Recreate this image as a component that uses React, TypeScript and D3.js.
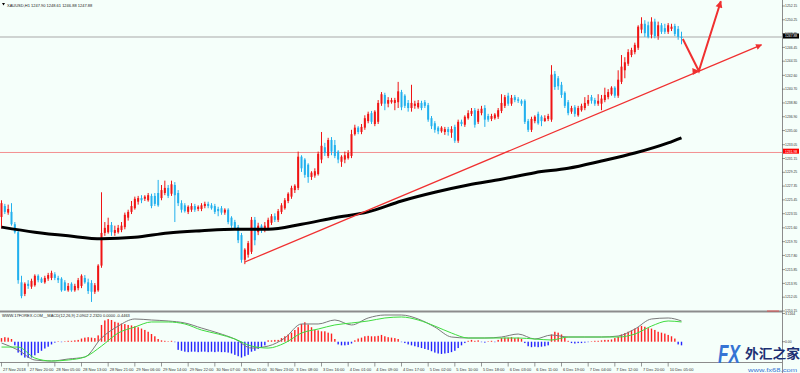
import * as d3 from 'd3';

const symbolTitle = 'XAUUSD,H1  1247.90 1248.61 1246.88 1247.88';
const macdTitle = 'WWW.17FOREX.COM__MACD(12,26,9) 2.0902 2.2320 0.0000 -0.4463';

// H1 bars, 27 Nov 12:00 -> 10 Dec 09:00
const opens = [
  1223.1, 1224.6, 1223.7, 1223.8, 1222.1, 1221.0, 1214.1, 1212.5, 1213.9, 1213.5,
  1213.7, 1215.0, 1214.6, 1214.1, 1214.6, 1214.7, 1215.2, 1214.7, 1214.6, 1214.1,
  1213.0, 1213.9, 1213.0, 1213.3, 1213.6, 1214.7, 1214.1, 1214.0, 1212.8, 1213.0,
  1216.4, 1220.9, 1221.0, 1222.0, 1220.9, 1221.0, 1221.3, 1221.7, 1223.0, 1223.8,
  1224.3, 1225.2, 1225.7, 1225.6, 1225.4, 1226.0, 1226.0, 1226.4, 1225.7, 1226.4,
  1227.1, 1226.3, 1227.5, 1226.4, 1225.0, 1224.7, 1223.8, 1224.1, 1224.6, 1224.2,
  1224.2, 1224.6, 1224.9, 1224.7, 1224.6, 1224.2, 1224.3, 1223.7, 1224.1, 1223.0,
  1222.4, 1221.7, 1220.6, 1217.2, 1217.9, 1218.3, 1222.7, 1221.0, 1221.9, 1221.3,
  1221.6, 1222.3, 1223.2, 1222.7, 1223.8, 1224.3, 1225.3, 1225.9, 1226.8, 1227.1,
  1231.4, 1231.0, 1230.3, 1228.6, 1228.8, 1229.0, 1231.0, 1232.7, 1231.5, 1233.7,
  1233.0, 1232.1, 1230.7, 1231.0, 1231.2, 1231.5, 1234.5, 1235.4, 1234.8, 1235.4,
  1236.3, 1237.4, 1235.9, 1236.2, 1238.7, 1239.9, 1238.7, 1238.9, 1238.8, 1238.9,
  1240.3, 1239.8, 1238.8, 1238.1, 1238.4, 1238.2, 1238.8, 1238.9, 1238.5, 1236.7,
  1236.0, 1235.4, 1234.9, 1234.8, 1235.2, 1234.7, 1235.5, 1233.6, 1236.2, 1235.8,
  1236.7, 1237.3, 1237.8, 1236.2, 1237.4, 1238.1, 1237.0, 1236.6, 1236.7, 1236.9,
  1237.7, 1238.4, 1239.8, 1238.7, 1239.6, 1239.3, 1239.1, 1239.1, 1236.3, 1235.1,
  1236.3, 1237.3, 1236.9, 1236.3, 1236.6, 1236.5, 1242.8, 1242.2, 1241.3, 1240.2,
  1238.9, 1237.6, 1238.2, 1237.1, 1237.8, 1238.1, 1238.7, 1239.6, 1239.2, 1238.7,
  1238.7, 1239.2, 1239.6, 1240.0, 1240.9, 1239.8, 1241.7, 1243.3, 1244.2, 1245.4,
  1245.8, 1246.4, 1248.9, 1249.7, 1249.5, 1248.2, 1250.0, 1248.0, 1249.5, 1249.1,
  1248.6, 1249.0, 1249.4, 1249.0, 1247.90,
];
const highs = [
  1225.4, 1224.9, 1224.8, 1225.0, 1222.4, 1221.3, 1215.0, 1214.1, 1214.4, 1214.6,
  1215.2, 1215.2, 1214.8, 1215.0, 1215.4, 1215.7, 1215.5, 1215.0, 1214.8, 1214.4,
  1214.0, 1214.1, 1213.9, 1214.7, 1215.2, 1215.1, 1214.6, 1214.4, 1214.0, 1216.6,
  1226.5, 1222.4, 1223.0, 1222.4, 1221.9, 1222.0, 1222.4, 1223.7, 1224.1, 1225.3,
  1225.9, 1226.0, 1226.1, 1226.1, 1226.4, 1226.3, 1226.4, 1228.2, 1227.5, 1228.1,
  1227.5, 1228.1, 1227.9, 1226.8, 1225.4, 1225.0, 1224.7, 1225.0, 1224.9, 1224.7,
  1225.0, 1225.2, 1225.2, 1225.0, 1224.9, 1224.5, 1224.6, 1224.3, 1224.3, 1223.2,
  1222.7, 1222.0, 1220.9, 1218.8, 1219.8, 1223.1, 1223.1, 1222.3, 1222.1, 1222.4,
  1223.0, 1223.5, 1223.6, 1224.2, 1225.0, 1225.7, 1226.5, 1227.4, 1227.6, 1232.1,
  1231.6, 1231.2, 1230.5, 1229.4, 1229.8, 1232.1, 1234.8, 1233.3, 1234.0, 1234.1,
  1233.7, 1232.3, 1231.6, 1232.1, 1232.3, 1235.1, 1235.8, 1235.6, 1235.9, 1237.1,
  1237.6, 1237.7, 1237.8, 1239.2, 1240.3, 1240.2, 1239.6, 1239.5, 1239.5, 1241.7,
  1240.6, 1240.0, 1239.2, 1241.3, 1239.1, 1239.2, 1239.1, 1239.2, 1238.8, 1237.0,
  1236.3, 1235.6, 1235.6, 1235.5, 1235.5, 1235.6, 1235.8, 1236.5, 1236.5, 1237.1,
  1237.8, 1238.1, 1238.1, 1238.0, 1238.4, 1238.5, 1237.3, 1237.3, 1237.4, 1238.1,
  1240.0, 1239.9, 1240.2, 1239.9, 1239.9, 1239.6, 1239.3, 1239.3, 1236.6, 1236.9,
  1237.1, 1237.6, 1237.1, 1237.1, 1237.3, 1244.0, 1243.2, 1242.5, 1241.7, 1240.4,
  1239.2, 1238.4, 1238.5, 1238.4, 1238.7, 1239.6, 1239.9, 1239.9, 1239.5, 1240.0,
  1239.9, 1240.9, 1240.7, 1241.1, 1241.1, 1243.3, 1245.4, 1245.1, 1246.2, 1246.4,
  1247.1, 1249.5, 1250.6, 1250.2, 1250.0, 1250.6, 1250.4, 1250.0, 1249.8, 1249.7,
  1249.8, 1249.7, 1249.7, 1249.4, 1248.61,
];
const lows = [
  1221.5, 1223.5, 1223.4, 1221.9, 1220.8, 1213.9, 1211.9, 1212.2, 1213.2, 1213.2,
  1213.5, 1214.1, 1214.0, 1213.9, 1214.3, 1214.4, 1214.4, 1214.0, 1212.8, 1212.9,
  1212.8, 1212.8, 1212.8, 1213.0, 1213.3, 1213.9, 1212.5, 1211.4, 1212.5, 1212.8,
  1216.1, 1220.5, 1220.8, 1220.5, 1220.5, 1220.8, 1221.0, 1221.4, 1222.6, 1223.5,
  1224.1, 1224.8, 1225.0, 1225.3, 1225.2, 1224.3, 1224.6, 1224.5, 1225.4, 1226.1,
  1225.7, 1226.0, 1222.4, 1224.6, 1223.7, 1223.7, 1223.5, 1223.8, 1223.8, 1223.9,
  1223.9, 1224.3, 1224.3, 1224.1, 1223.5, 1223.2, 1223.4, 1223.4, 1222.1, 1221.6,
  1221.3, 1219.5, 1216.8, 1216.6, 1217.5, 1218.0, 1219.2, 1220.6, 1220.9, 1221.0,
  1221.3, 1222.0, 1222.4, 1222.4, 1223.5, 1224.1, 1225.0, 1225.6, 1226.4, 1226.8,
  1229.3, 1228.5, 1227.8, 1228.2, 1228.5, 1228.8, 1230.5, 1231.5, 1231.2, 1231.6,
  1231.2, 1230.5, 1230.0, 1230.5, 1231.0, 1231.2, 1234.3, 1234.5, 1234.5, 1235.1,
  1236.0, 1235.9, 1235.6, 1235.9, 1238.4, 1237.8, 1238.2, 1238.7, 1237.8, 1238.1,
  1237.8, 1238.1, 1237.6, 1237.6, 1238.0, 1238.0, 1237.8, 1238.1, 1236.2, 1235.2,
  1234.7, 1234.5, 1234.7, 1234.4, 1234.3, 1234.0, 1233.3, 1233.3, 1235.6, 1235.5,
  1236.5, 1237.0, 1235.4, 1235.9, 1237.1, 1235.5, 1236.2, 1236.3, 1236.5, 1236.6,
  1237.4, 1238.1, 1238.4, 1238.4, 1238.9, 1238.8, 1238.4, 1235.9, 1234.8, 1234.8,
  1236.0, 1235.8, 1235.6, 1236.2, 1236.3, 1236.2, 1240.6, 1240.6, 1239.5, 1238.1,
  1237.1, 1237.3, 1236.9, 1236.9, 1237.6, 1237.8, 1238.4, 1238.7, 1238.4, 1238.4,
  1237.8, 1238.9, 1239.3, 1239.8, 1239.5, 1239.5, 1241.4, 1242.2, 1243.9, 1245.1,
  1245.5, 1246.1, 1248.4, 1247.9, 1247.7, 1247.7, 1247.7, 1247.5, 1248.3, 1248.3,
  1248.3, 1248.7, 1248.0, 1247.5, 1246.88,
];
const closes = [
  1225.0, 1223.8, 1224.2, 1222.1, 1221.0, 1214.4, 1212.2, 1213.9, 1213.6, 1214.3,
  1215.0, 1214.4, 1214.1, 1214.7, 1215.1, 1215.4, 1214.7, 1214.4, 1213.0, 1213.0,
  1213.6, 1213.0, 1213.6, 1214.4, 1215.0, 1214.1, 1212.9, 1212.8, 1213.7, 1216.4,
  1220.9, 1221.6, 1222.0, 1221.0, 1221.3, 1221.6, 1221.9, 1223.4, 1223.8, 1224.6,
  1225.6, 1225.7, 1225.4, 1225.9, 1226.1, 1224.6, 1224.9, 1224.7, 1226.8, 1227.1,
  1226.0, 1227.6, 1226.1, 1225.0, 1224.1, 1223.9, 1224.5, 1224.6, 1224.1, 1224.5,
  1224.7, 1224.9, 1224.6, 1224.3, 1223.8, 1223.9, 1223.7, 1224.1, 1222.4, 1221.9,
  1221.6, 1219.9, 1217.2, 1218.6, 1219.5, 1222.7, 1219.9, 1221.9, 1221.3, 1221.9,
  1222.7, 1223.2, 1222.7, 1223.9, 1224.7, 1225.4, 1226.3, 1227.1, 1227.4, 1231.4,
  1229.8, 1228.9, 1228.6, 1229.2, 1229.4, 1231.8, 1232.9, 1231.9, 1233.7, 1232.1,
  1231.5, 1231.0, 1231.4, 1231.6, 1231.9, 1234.5, 1235.4, 1234.8, 1235.5, 1236.7,
  1237.3, 1236.2, 1237.6, 1238.8, 1240.0, 1238.7, 1239.2, 1239.2, 1239.2, 1240.4,
  1238.2, 1238.4, 1238.1, 1238.8, 1238.7, 1238.8, 1238.1, 1238.4, 1236.5, 1235.6,
  1235.1, 1234.9, 1235.4, 1235.2, 1234.8, 1235.2, 1233.6, 1236.2, 1235.9, 1236.9,
  1237.4, 1237.7, 1235.8, 1237.7, 1238.0, 1236.5, 1236.5, 1237.0, 1237.2, 1237.8,
  1238.8, 1239.6, 1238.7, 1239.5, 1239.2, 1239.1, 1238.7, 1236.2, 1235.1, 1236.6,
  1236.9, 1236.0, 1236.3, 1236.7, 1237.0, 1242.7, 1241.0, 1241.1, 1239.9, 1238.4,
  1237.4, 1238.1, 1237.3, 1238.1, 1238.4, 1238.8, 1239.2, 1239.1, 1238.7, 1239.1,
  1239.4, 1239.9, 1240.3, 1240.9, 1239.8, 1242.0, 1243.8, 1244.4, 1245.8, 1246.1,
  1246.8, 1249.3, 1249.7, 1248.4, 1247.9, 1250.0, 1248.0, 1249.5, 1248.6, 1248.6,
  1249.5, 1249.3, 1248.3, 1247.9, 1247.88,
];

// moving average (thick black)
const maBars = [0, 10, 20, 30, 40, 50, 60, 70, 80, 90, 100, 110, 120, 130, 140, 150, 160, 170, 180, 190, 200, 204];
const maValues = [
  1221.7, 1221.0, 1220.5, 1220.1, 1220.3, 1220.9, 1221.2, 1221.4, 1221.4, 1222.1, 1223.0,
  1223.8, 1225.3, 1226.5, 1227.5, 1228.3, 1229.2, 1229.8, 1230.8, 1231.9, 1233.3, 1234.0,
];

// MACD sub window
const histValues = [
  0.4, 0.5, 0.45, 0.3, -0.4, -1.2, -1.5, -1.75, -1.8, -1.75,
  -1.5, -1.25, -1.0, -0.75, -0.55, -0.3, -0.1, 0.05, -0.05, 0.05,
  0.1, 0.1, 0.15, 0.2, 0.35, 0.45, 0.5, 0.45, 0.4, 0.7,
  1.85, 2.35, 2.5, 2.4, 2.2, 2.1, 2.0, 1.95, 1.85, 1.8,
  1.7, 1.6, 1.45, 1.3, 1.1, 0.85, 0.6, 0.3, 0.15, 0.1,
  0.05, 0.1, -0.05, -0.9, -1.0, -1.1, -1.15, -1.1, -1.1, -1.15,
  -1.1, -1.1, -1.15, -1.1, -1.15, -1.1, -1.15, -1.15, -1.2, -1.3,
  -1.45, -1.6, -1.75, -1.6, -1.45, -1.1, -1.0, -0.8, -0.6, -0.4,
  0.15, 0.15, 0.2, 0.2, 0.4, 0.6, 0.8, 1.0, 1.3, 1.6,
  1.95, 2.15, 1.9, 1.6, 1.3, 1.25, 1.15, 1.15, 1.0, 0.9,
  0.3, -0.3, -0.4, -0.4, -0.35, -0.2, 0.15, 0.35, 0.45, 0.6,
  0.65, 0.6, 0.6, 0.65, 0.75, 0.6, 0.5, 0.45, 0.4, 0.3,
  -0.05, -0.15, -0.3, -0.4, -0.5, -0.6, -0.7, -0.8, -0.9, -1.05,
  -1.2, -1.3, -1.35, -1.3, -1.25, -1.15, -1.0, -0.7, -0.4, -0.15,
  0.1, 0.2, 0.1, 0.15, -0.05, -0.1, 0.05, 0.1, -0.05, 0.2,
  0.4, 0.45, 0.45, 0.5, 0.4, 0.45, 0.3, -0.15, -0.5, -0.6,
  -0.55, -0.6, -0.55, -0.5, -0.4, 0.8, 1.1, 1.0, 0.8, 0.5,
  0.1, -0.15, -0.2, -0.15, -0.15, -0.1, -0.05, 0.05, 0.1, 0.1,
  0.15, 0.2, 0.2, 0.25, 0.4, 0.55, 0.8, 0.95, 1.1, 1.25,
  1.45, 1.6, 1.75, 1.65, 1.5, 1.45, 1.3, 1.1, 1.0, 0.9,
  0.75, 0.6, 0.35, -0.3, -0.4,
];
const lineBars = [
  0, 5, 10, 15, 20, 25, 30, 35, 40, 45, 50, 55, 60, 65, 70, 75, 80, 85, 90, 95, 100,
  105, 110, 115, 120, 125, 130, 135, 140, 145, 150, 155, 160, 165, 170, 175, 180, 185, 190, 195, 200, 204,
];
const macdGray = [
  -0.14, -0.92, -2.02, -2.13, -1.91, -1.69, 0.41, 1.73, 2.51, 2.40,
  2.29, 2.07, 1.51, 0.96, 0.30, -0.70, -0.48, 0.41, 1.96, 1.96,
  2.40, 1.85, 2.62, 2.95, 2.95, 2.51, 1.62, 0.52, 0.41, 0.41,
  0.52, 0.85, 0.30, 0.74, 0.52, 0.52, 0.52, 0.63, 1.40, 2.51,
  2.62, 2.29,
];
const macdGreen = [
  -0.59, -0.59, -1.80, -2.13, -2.02, -1.69, -0.48, 0.96, 1.62, 2.18,
  2.18, 1.96, 1.29, 0.85, 0.30, -0.48, -0.70, -0.14, 0.96, 1.40,
  1.85, 2.07, 2.29, 2.62, 2.73, 2.40, 1.73, 0.96, 0.41, 0.41,
  0.41, 0.41, 0.30, 0.19, 0.52, 0.52, 0.52, 0.52, 0.85, 1.73,
  2.29, 2.18,
];
const macdTickLabels = ['3.1164', '0.00'];

const priceTicks = [
  '1252.15', '1250.25', '1248.35', '1246.45', '1244.55', '1242.60', '1240.70', '1238.80',
  '1236.90', '1235.00', '1233.05', '1231.15', '1229.25', '1227.35', '1225.45', '1223.55',
  '1221.60', '1219.70', '1217.80', '1215.85', '1213.95', '1212.05', '1210.15',
];
const timeLabels = [
  '27 Nov 2018', '27 Nov 20:00', '28 Nov 05:00', '28 Nov 13:00', '28 Nov 21:00', '29 Nov 06:00',
  '29 Nov 14:00', '29 Nov 22:00', '30 Nov 07:00', '30 Nov 15:00', '30 Nov 23:00', '3 Dec 08:00',
  '3 Dec 16:00', '4 Dec 01:00', '4 Dec 09:00', '4 Dec 17:00', '5 Dec 02:00', '5 Dec 10:00',
  '5 Dec 18:00', '6 Dec 03:00', '6 Dec 11:00', '6 Dec 19:00', '7 Dec 04:00', '7 Dec 12:00',
  '7 Dec 20:00', '10 Dec 05:00',
];

// drawn objects
const lastPrice = 1247.88;
const levelPrice = 1231.98;
const trendBars = [73, 228];
const trendPrices = [1216.9, 1246.8];
const forecastBars = [204.4, 209.2, 215.8];
const forecastPrices = [1247.6, 1243.2, 1252.8];

const BG = '#f5fffa';
const UP = '#f01414';
const DOWN = '#22b0ee';
const FONT = 'Liberation Sans, Arial, sans-serif';

export default function App() {
  const W = 800;
  const H = 373;
  const right = 782;

  const x = d3.scaleLinear().domain([0, 234]).range([1.5, 781.5]);
  const y = d3.scaleLinear().domain([1210.15, 1252.15]).range([311, 6]);
  const ym = d3.scaleLinear().domain([-2.24, 3.1164]).range([362, 313.5]);

  const maPath = d3.line<number>()
    .x((_, k) => x(maBars[k]))
    .y(v => y(v))
    .curve(d3.curveMonotoneX)(maValues);

  const macdLine = d3.line<number>()
    .x((_, k) => x(lineBars[k]))
    .y(v => ym(v))
    .curve(d3.curveMonotoneX);

  const fcPath = d3.line<number>()
    .x((_, k) => x(forecastBars[k]))
    .y(v => y(v))(forecastPrices);

  const yLast = y(lastPrice);
  const yLevel = y(levelPrice);

  return (
    <svg width={W} height={H} style={{ position: 'absolute', left: 0, top: 0, display: 'block' }}
      fontFamily={FONT}>
      <defs>
        <clipPath id="mainClip"><rect x={0} y={0} width={right} height={310.5} /></clipPath>
        <clipPath id="macdClip"><rect x={0} y={313} width={right} height={49} /></clipPath>
        <marker id="trendHead" viewBox="0 0 10 10" refX={9} refY={5} markerWidth={7} markerHeight={6}
          markerUnits="userSpaceOnUse" orient="auto">
          <path d="M0,0 L10,5 L0,10 z" fill="#f03030" />
        </marker>
        <marker id="fcHead" viewBox="0 0 10 10" refX={9} refY={5} markerWidth={8} markerHeight={7}
          markerUnits="userSpaceOnUse" orient="auto">
          <path d="M0,0 L10,5 L0,10 z" fill="#f03030" />
        </marker>
      </defs>
      <rect x={0} y={0} width={W} height={H} fill={BG} />

      {/* main window */}
      <g clipPath="url(#mainClip)">
        <line x1={0} x2={right} y1={yLast} y2={yLast} stroke="#a9a9a9" strokeWidth={1} />
        <line x1={0} x2={right} y1={yLevel} y2={yLevel} stroke="#f39090" strokeWidth={1} />
        {closes.map((c, i) => {
          const o = opens[i];
          const up = c >= o;
          const col = up ? UP : DOWN;
          const top = y(Math.max(o, c));
          const bot = y(Math.min(o, c));
          return (
            <g key={i}>
              <line x1={x(i)} x2={x(i)} y1={y(highs[i])} y2={y(lows[i])} stroke={col} strokeWidth={1} />
              <rect x={x(i) - 1} y={top} width={2} height={Math.max(1, bot - top)} fill={col} />
            </g>
          );
        })}
        <path d={maPath || ''} fill="none" stroke="#000" strokeWidth={3} />
        <line x1={x(trendBars[0])} y1={y(trendPrices[0])} x2={x(trendBars[1])} y2={y(trendPrices[1])}
          stroke="#f03030" strokeWidth={1.3} markerEnd="url(#trendHead)" />
        <path d={fcPath || ''} fill="none" stroke="#f03030" strokeWidth={2} markerMid="url(#fcHead)"
          markerEnd="url(#fcHead)" />
      </g>
      <path d="M2,3 L5,3 L3.5,5.5 z" fill="#000" />
      <text x={7} y={6.5} fontSize={4} fill="#222">{symbolTitle}</text>

      {/* MACD window */}
      <rect x={0} y={310.5} width={right} height={2} fill="#8c8c8c" />
      <g clipPath="url(#macdClip)">
        {histValues.map((v, i) => (
          <rect key={i} x={x(i) - 0.7} width={1.4}
            y={Math.min(ym(0), ym(v))} height={Math.abs(ym(v) - ym(0))}
            fill={v >= 0 ? '#ff1e1e' : '#2323ff'} />
        ))}
        <path d={macdLine(macdGray) || ''} fill="none" stroke="#7a7a7a" strokeWidth={1} />
        <path d={macdLine(macdGreen) || ''} fill="none" stroke="#3fdc3f" strokeWidth={1} />
      </g>
      <text x={2} y={317} fontSize={4} fill="#222">{macdTitle}</text>

      {/* axes */}
      <line x1={right + 0.5} x2={right + 0.5} y1={0} y2={H} stroke="#8c8c8c" strokeWidth={1} />
      <line x1={0} x2={right} y1={362.5} y2={362.5} stroke="#8c8c8c" strokeWidth={1} />
      {priceTicks.map(t => {
        const ty = y(+t);
        return (
          <g key={t}>
            <line x1={right} x2={right + 3} y1={ty} y2={ty} stroke="#555" strokeWidth={0.6} />
            <text x={785} y={ty + 1.2} fontSize={3.4} fill="#333">{t}</text>
          </g>
        );
      })}
      <rect x={783} y={yLast - 3.5} width={16} height={5} fill="#000" />
      <text x={785} y={yLast + 0.4} fontSize={3.4} fill="#fff">{lastPrice.toFixed(2)}</text>
      <rect x={783} y={yLevel - 3.8} width={16} height={5} fill="#ff0000" />
      <text x={785} y={yLevel + 0.1} fontSize={3.4} fill="#fff">{levelPrice.toFixed(2)}</text>
      <line x1={767} x2={779} y1={311} y2={311} stroke="#f04040" strokeWidth={0.8} />

      {macdTickLabels.map(t => {
        const ty = ym(+t);
        return (
          <g key={t}>
            <line x1={right} x2={right + 3} y1={ty} y2={ty} stroke="#555" strokeWidth={0.6} />
            <text x={785} y={ty + 1.2} fontSize={3.4} fill="#333">{t}</text>
          </g>
        );
      })}

      {timeLabels.map((t, k) => {
        const tx = x(k * 8);
        return (
          <g key={t}>
            <line x1={tx} x2={tx} y1={362.5} y2={366.5} stroke="#555" strokeWidth={0.6} />
            <text x={Math.max(0.5, tx + 1.5)} y={370.5} fontSize={4} fill="#333">{t}</text>
          </g>
        );
      })}

      {/* watermark */}
      <text x={718} y={363} fontSize={26} fontWeight="bold" fontStyle="italic" fill="#3574d4"
        textLength={22} lengthAdjust="spacingAndGlyphs">FX</text>
      <text x={745} y={358} fontSize={13} fontWeight="bold" fill="#1c2f73"
        fontFamily="Noto Sans CJK SC" textLength={55} lengthAdjust="spacingAndGlyphs">外汇之家</text>
      <text x={748} y={371.5} fontSize={6} fill="#3574d4" textLength={49}
        lengthAdjust="spacingAndGlyphs">www.fx68.com</text>
    </svg>
  );
}
